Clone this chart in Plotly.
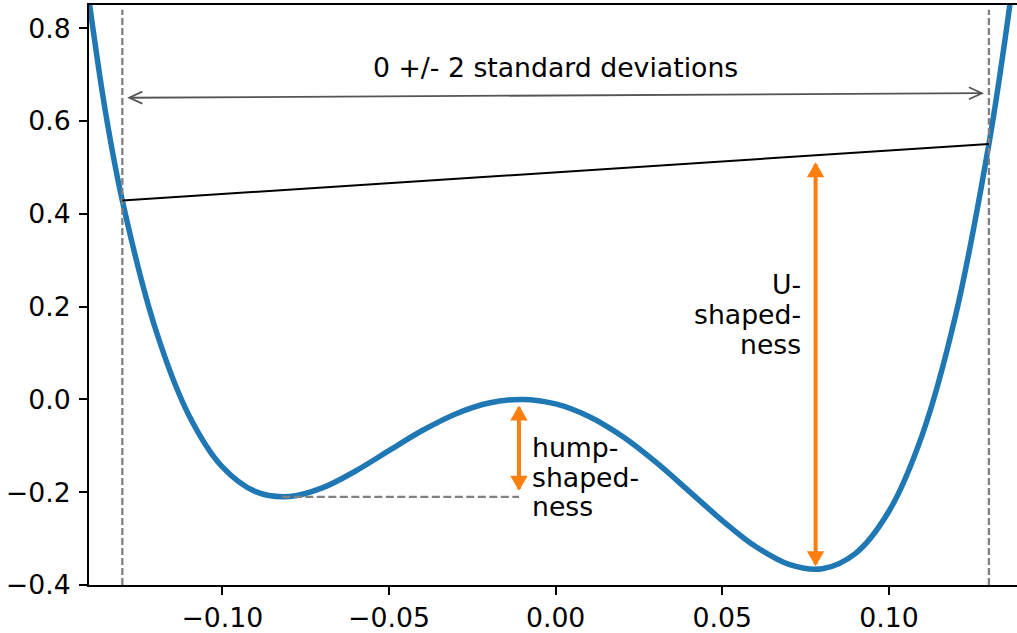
import plotly.graph_objects as go

# ---------------- data ----------------
curve_x = [-0.14, -0.135, -0.13, -0.12, -0.11, -0.10, -0.09, -0.08, -0.07, -0.06,
           -0.05, -0.04, -0.03, -0.02, -0.01, 0.0, 0.01, 0.02, 0.03, 0.04,
           0.05, 0.06, 0.07, 0.08, 0.09, 0.10, 0.11, 0.12, 0.13, 0.135, 0.14]
curve_y = [0.86, 0.617, 0.4285, 0.1506, -0.0346, -0.1455, -0.1988, -0.2094, -0.1907, -0.1543,
           -0.1104, -0.0671, -0.0313, -0.0078, 0.0, -0.0097, -0.0368, -0.0796, -0.1349, -0.1976,
           -0.2611, -0.3171, -0.3556, -0.3649, -0.3317, -0.2411, -0.0763, 0.1809, 0.5505, 0.7842, 1.0542]

band_x = [-0.13, 0.13]          # 0 +/- 2 standard deviations
band_top = 0.84
chord_y = [0.4285, 0.5505]      # curve value at the band edges
std_arrow_y = [0.65, 0.66]

local_min = [-0.082, -0.21]
local_max = [-0.011, 0.0]
global_min = [0.078, -0.366]

x_ticks = [-0.10, -0.05, 0.0, 0.05, 0.10]
x_tick_labels = ["\u22120.10", "\u22120.05", "0.00", "0.05", "0.10"]
y_ticks = [-0.4, -0.2, 0.0, 0.2, 0.4, 0.6, 0.8]
y_tick_labels = ["\u22120.4", "\u22120.2", "0.0", "0.2", "0.4", "0.6", "0.8"]

std_label = "0 +/- 2 standard deviations"
hump_lines = ["hump-", "shaped-", "ness"]
u_lines = ["U-", "shaped-", "ness"]

# ---------------- layout geometry ----------------
W, H = 1017, 633
ML, MR, MT, MB = 89, 0, 5, 48
PW, PH = W - ML - MR, H - MT - MB
X0 = -0.14
SX = 3333.0
X1 = X0 + PW / SX
Y0, Y1 = -0.4, 0.85
SY = PH / (Y1 - Y0)

FONT = "DejaVu Sans"
FS = 26.7
BLUE = "#1f77b4"
ORANGE = "#ff7f0e"
GREY = "#808080"
DGREY = "#555555"


def to_px(x, y):
    return (x - X0) * SX, (y - Y0) * SY


def to_data(px, py):
    return px / SX + X0, py / SY + Y0


def arrow(x0, y0, x1, y1, s0, s1, color, width, hl, hw, filled):
    ax, ay = to_px(x0, y0)
    bx, by = to_px(x1, y1)
    dx, dy = bx - ax, by - ay
    L = (dx * dx + dy * dy) ** 0.5
    ux, uy = dx / L, dy / L
    ax, ay = ax + ux * s0, ay + uy * s0
    bx, by = bx - ux * s1, by - uy * s1
    shapes = []
    p0 = to_data(ax, ay)
    p1 = to_data(bx, by)
    shapes.append(dict(type="line", xref="x", yref="y", x0=p0[0], y0=p0[1], x1=p1[0], y1=p1[1],
                       line=dict(color=color, width=width)))
    for tx, ty, sgn in [(ax, ay, 1), (bx, by, -1)]:
        bxh, byh = tx + sgn * ux * hl, ty + sgn * uy * hl
        nx, ny = -uy, ux
        a = to_data(bxh + nx * hw, byh + ny * hw)
        t = to_data(tx, ty)
        b = to_data(bxh - nx * hw, byh - ny * hw)
        path = f"M {a[0]},{a[1]} L {t[0]},{t[1]} L {b[0]},{b[1]}"
        if filled:
            path += " Z"
            shapes.append(dict(type="path", xref="x", yref="y", path=path,
                               fillcolor=color, line=dict(color=color, width=2)))
        else:
            shapes.append(dict(type="path", xref="x", yref="y", path=path,
                               line=dict(color=color, width=width)))
    return shapes


fig = go.Figure()
fig.add_trace(go.Scatter(x=curve_x, y=curve_y, mode="lines",
                         line=dict(color=BLUE, width=5.5, shape="spline", smoothing=1.0),
                         hoverinfo="skip", showlegend=False))

shapes = []
# vertical dashed lines at +/- 2 sd
for bx in band_x:
    shapes.append(dict(type="line", xref="x", yref="y", x0=bx, x1=bx, y0=Y0, y1=band_top,
                       line=dict(color=GREY, width=2.3, dash="7px,3px")))
# chord between the band edges
shapes.append(dict(type="line", xref="x", yref="y", x0=band_x[0], x1=band_x[1],
                   y0=chord_y[0], y1=chord_y[1], line=dict(color="black", width=2)))
# horizontal dashed line from local minimum
shapes.append(dict(type="line", xref="x", yref="y", x0=local_min[0], x1=local_max[0],
                   y0=local_min[1], y1=local_min[1],
                   line=dict(color=GREY, width=2.3, dash="8px,3.5px")))
# grey double arrow for the band
shapes += arrow(band_x[0], std_arrow_y[0], band_x[1], std_arrow_y[1], 7, 7, DGREY, 1.8, 13, 6, False)
# hump arrow
shapes += arrow(local_max[0], local_max[1], local_max[0], local_min[1], 8, 8, ORANGE, 4, 12, 7, True)
# U arrow
chord_at_min = chord_y[0] + (chord_y[1] - chord_y[0]) * (global_min[0] - band_x[0]) / (band_x[1] - band_x[0])
shapes += arrow(global_min[0], chord_at_min, global_min[0], global_min[1], 9, 5, ORANGE, 4, 12, 7, True)

annotations = []
annotations.append(dict(x=0.0, y=0.7162, xref="x", yref="y", text=std_label, showarrow=False,
                        xanchor="center", yanchor="middle", font=dict(family=FONT, size=FS, color="black")))
hump_y = [-0.1034, -0.1675, -0.2315]
for t, yy in zip(hump_lines, hump_y):
    annotations.append(dict(x=-0.00765, y=yy, xref="x", yref="y", text=t, showarrow=False,
                            xanchor="left", yanchor="middle", align="left",
                            font=dict(family=FONT, size=FS, color="black")))
u_y = [0.2472, 0.1838, 0.1192]
for t, yy in zip(u_lines, u_y):
    annotations.append(dict(x=0.0741, y=yy, xref="x", yref="y", text=t, showarrow=False,
                            xanchor="right", yanchor="middle", align="right",
                            font=dict(family=FONT, size=FS, color="black")))

axis_common = dict(showgrid=False, zeroline=False, showline=True, linecolor="black", linewidth=2,
                   ticks="outside", ticklen=8, tickwidth=2, tickcolor="black", automargin=False,
                   tickfont=dict(family=FONT, size=FS, color="black"))

fig.update_layout(
    width=W, height=H, autosize=False,
    margin=dict(l=ML, r=MR, t=MT, b=MB, pad=0),
    paper_bgcolor="white", plot_bgcolor="white",
    showlegend=False,
    shapes=shapes, annotations=annotations,
    xaxis=dict(range=[X0, X1], tickvals=x_ticks, ticktext=x_tick_labels, mirror=True,
               ticklabelstandoff=0, **axis_common),
    yaxis=dict(range=[Y0, Y1], tickvals=y_ticks, ticktext=y_tick_labels,
               ticklabelstandoff=3, **axis_common),
)

fig.write_html("out.html")
